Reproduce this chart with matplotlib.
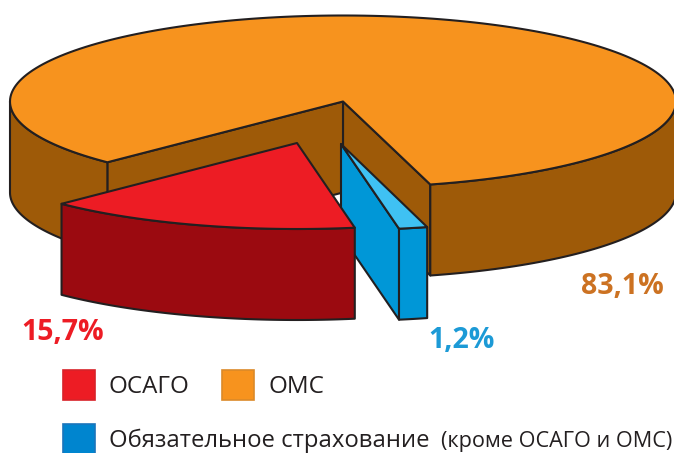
import numpy as np
import matplotlib
matplotlib.use("Agg")
import matplotlib.pyplot as plt
from matplotlib.patches import Polygon, Rectangle

categories = ["ОМС", "ОСАГО", "Обязательное страхование"]
shares = [83.1, 15.7, 1.2]
value_labels = ["83,1%", "15,7%", "1,2%"]

W, H = 674, 453
CX, CY, RX, RY, DEPTH = 343, 101.5, 333, 86, 91
EDGE = "#231F20"
FONT = "Open Sans"

fig = plt.figure(figsize=(W / 100, H / 100), dpi=100)
ax = fig.add_axes([0, 0, 1, 1])
ax.set_xlim(0, W)
ax.set_ylim(H, 0)
ax.axis("off")


def rim(t1, t2, dx=0, dy=0, n=200):
    t = np.radians(np.linspace(t1, t2, n))
    return np.column_stack([CX + dx + RX * np.cos(t), CY + dy + RY * np.sin(t)])


def poly(pts, face, z, lw=1.5):
    ax.add_patch(Polygon(pts, closed=True, facecolor=face, edgecolor=EDGE,
                         linewidth=lw, joinstyle="round", zorder=z))


def wedge(t_a, t_b, dx, dy, top, side, z, outer_ranges, cuts):
    """One extruded slice; t_a and t_b are the rim angles of its two cuts."""
    apex = np.array([CX + dx, CY + dy])
    down = np.array([0, DEPTH])
    arc = rim(t_a, t_b, dx, dy)
    # visible inner cut faces
    for p in (arc[i] for i in cuts):
        poly(np.array([apex, p, p + down, apex + down]), side, z)
    # visible outer wall
    for r1, r2 in outer_ranges:
        a = rim(r1, r2, dx, dy)
        poly(np.vstack([a, (a + down)[::-1]]), side, z + 0.1)
    # top
    poly(np.vstack([apex, arc]), top, z + 0.2)


# slice sweeps follow the shares; the small factors reproduce the drawn artwork
oms_start = 74.8
oms_end = oms_start - shares[0] * 3.6 * 1.002
wedge(oms_start, oms_end, 0, 0, "#F7931E", "#9E5A08", 1,
      [(oms_start, 0), (oms_end, -180)], cuts=(0, -1))

blue_start = 75
blue_end = blue_start + shares[2] * 3.6 * 1.15
wedge(blue_end, blue_start, -2, 42.5, "#3FC1F3", "#0097D7", 3,
      [(blue_start, blue_end)], cuts=(0,))

red_start = 135
red_end = red_start - shares[1] * 3.6 * 0.973
wedge(red_end, red_start, -46, 41.5, "#ED1C24", "#9B0A10", 5,
      [(red_end, red_start)], cuts=())

# value labels
lab_colors = ["#CC7222", "#ED1C24", "#1C9AD6"]
lab_pos = [(622, 286), (62.5, 333), (462, 341)]
for s, c, (x, y) in zip(value_labels, lab_colors, lab_pos):
    ax.text(x, y, s, color=c, fontsize=20.5, fontweight="bold", family=FONT,
            ha="center", va="center", zorder=10)

# legend
legend_boxes = [(63, 370, "#ED1C24", "#D8232A"), (222, 370, "#F7931E", "#DB8A2A"),
                (63, 424, "#0085CF", "#1B75BB")]
for x, y, f, e in legend_boxes:
    ax.add_patch(Rectangle((x, y), 32, 30, facecolor=f, edgecolor=e, linewidth=1.2, zorder=10))

txt = "#231F20"
ax.text(109, 387, categories[1], fontsize=17.4, family=FONT, color=txt, va="center", zorder=10)
ax.text(269, 387, categories[0], fontsize=17.4, family=FONT, color=txt, va="center", zorder=10)
ax.text(109, 441, categories[2], fontsize=17.2, family=FONT, color=txt, va="center", zorder=10)
ax.text(672, 441, "(кроме ОСАГО и ОМС)", fontsize=15.6, family=FONT, color=txt,
        va="center", ha="right", zorder=10)

fig.savefig("out.png", dpi=100)
